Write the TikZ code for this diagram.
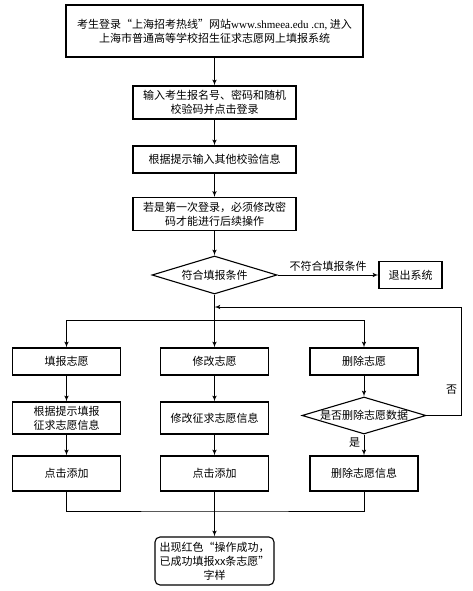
\documentclass[tikz,border=0pt]{standalone}
\usepackage{fontspec}
\setmainfont{Noto Sans CJK SC}
\newfontfamily\urlfont{Liberation Serif}
\usetikzlibrary{shapes,arrows}

\begin{document}
\begin{tikzpicture}[
  x=1pt, y=1pt,
  font=\fontsize{11}{14}\selectfont,
  block/.style={rectangle, draw, line width=1.1pt, align=center, minimum width=163pt, minimum height=27pt, inner sep=2pt},
  colblock/.style={block, minimum width=108pt},
  decision/.style={diamond, draw, line width=1.1pt, aspect=3.3, inner sep=0pt, text centered},
  line/.style={draw, line width=1pt, -latex'}
]
\useasboundingbox (0,0) rectangle (472,-591);

\node [block, minimum width=297pt, minimum height=52pt] (start) at (214.5,-31)
  {考生登录“上海招考热线”网站{\urlfont www.shmeea.edu .cn,} 进入\\上海市普通高等学校招生征求志愿网上填报系统};
\node [block, below of=start, node distance=71.5pt, minimum height=33pt] (login) {输入考生报名号、密码和随机\\校验码并点击登录};
\node [block, below of=login, node distance=57pt] (verify) {根据提示输入其他校验信息};
\node [block, below of=verify, node distance=54.5pt, minimum height=33pt] (first) {若是第一次登录，必须修改密\\码才能进行后续操作};
\node [decision, below of=first, node distance=61pt, minimum width=125pt, minimum height=38pt] (cond) {符合填报条件};
\node [block, right of=cond, node distance=196pt, minimum width=63pt] (exit) {退出系统};

\node [colblock, below of=cond, node distance=86.5pt] (modify) {修改志愿};
\node [colblock, left of=modify, node distance=148pt] (fill) {填报志愿};
\node [colblock, right of=modify, node distance=149.5pt] (delete) {删除志愿};

\node [colblock, below of=fill, node distance=56.5pt, minimum height=32pt] (fillinfo) {根据提示填报\\征求志愿信息};
\node [colblock, below of=modify, node distance=56.5pt, minimum height=32pt] (modinfo) {修改征求志愿信息};
\node [decision, below of=delete, node distance=54pt, minimum width=124pt, minimum height=37pt] (ask) {是否删除志愿数据};

\node [colblock, below of=fillinfo, node distance=55.5pt, minimum height=35pt] (add1) {点击添加};
\node [colblock, below of=modinfo, node distance=55.5pt, minimum height=35pt] (add2) {点击添加};
\node [colblock, below of=ask, node distance=58pt, minimum height=35pt] (delinfo) {删除志愿信息};

\node [block, rounded corners=5pt, below of=add2, node distance=87.5pt, minimum width=119pt, minimum height=48pt] (result)
  {出现红色“操作成功，\\已成功填报xx条志愿”\\字样};

\coordinate (back) at (214.5,-307);
\coordinate (split) at (214.5,-320);
\coordinate (merge) at (214.5,-511);
\coordinate (turn) at (461,-307);

\path [line] (start) -- (login);
\path [line] (login) -- (verify);
\path [line] (verify) -- (first);
\path [line] (first) -- (cond);
\path [line] (cond) -- node [above] {不符合填报条件} (exit);
\draw [line width=1pt] (cond) -- (split);
\path [line] (split) -| (fill);
\path [line] (split) -- (modify);
\path [line] (split) -| (delete);
\path [line] (fill) -- (fillinfo);
\path [line] (modify) -- (modinfo);
\path [line] (delete) -- (ask);
\path [line] (fillinfo) -- (add1);
\path [line] (modinfo) -- (add2);
\path [line] (ask) -- node [left, pos=0.4] {是} (delinfo);
\path [line] (ask.east) -| node [left, pos=0.62] {否} (turn) -- (back);
\draw [line width=1pt] (add1) |- (merge) -| (delinfo);
\path [line] (add2) -- (result);

\end{tikzpicture}
\end{document}
